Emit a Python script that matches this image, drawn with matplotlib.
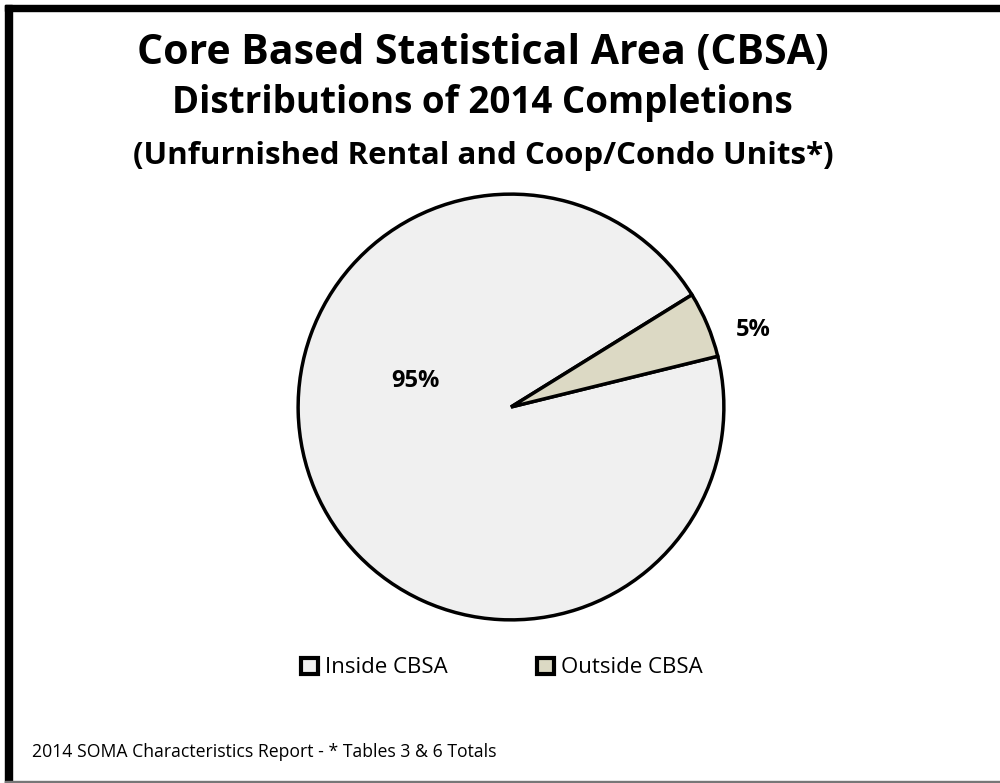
import matplotlib
matplotlib.use("Agg")
import matplotlib.pyplot as plt
from matplotlib.patches import Rectangle, Patch

plt.rcParams["font.family"] = ["Open Sans", "DejaVu Sans"]

labels = ["Inside CBSA", "Outside CBSA"]
shares = [95, 5]
colors = ["#f0f0f0", "#dcd9c4"]
pct_labels = ["95%", "5%"]

fig = plt.figure(figsize=(10, 7.83), dpi=100)

# frame: heavy top/left edge, thin grey bottom edge
fig.patches.append(Rectangle((0.005, 0.986), 0.995, 0.008, transform=fig.transFigure,
                             color="black", zorder=5))
fig.patches.append(Rectangle((0.005, 0.0), 0.007, 0.994, transform=fig.transFigure,
                             color="black", zorder=5))
fig.patches.append(Rectangle((0.005, 0.0), 0.995, 0.003, transform=fig.transFigure,
                             color="#777777", zorder=5))

fig.text(0.483, 0.932, "Core Based Statistical Area (CBSA)", ha="center", va="center",
         fontsize=29.5, fontweight="bold")
fig.text(0.482, 0.868, "Distributions of 2014 Completions", ha="center", va="center",
         fontsize=26.5, fontweight="bold")
fig.text(0.483, 0.801, "(Unfurnished Rental and Coop/Condo Units*)", ha="center", va="center",
         fontsize=22.5, fontweight="bold")

# pie centered at (511, 407) px, radius ~215 px
r = 215
cx, cy = 511, 783 - 407
ax = fig.add_axes([(cx - r) / 1000, (cy - r) / 783, 2 * r / 1000, 2 * r / 783])
wedges, _ = ax.pie(shares, colors=colors, startangle=31.8, counterclock=True,
                   wedgeprops=dict(edgecolor="black", linewidth=2.5), radius=1.0)
ax.set_xlim(-1.01, 1.01)
ax.set_ylim(-1.01, 1.01)
ax.set_aspect("auto")

ax.text(-0.45, 0.12, pct_labels[0], ha="center", va="center", fontsize=17, fontweight="bold")
ax.text(1.14, 0.36, pct_labels[1], ha="center", va="center", fontsize=17, fontweight="bold")

handles = [Patch(facecolor=c, edgecolor="black", linewidth=3) for c in colors]
fig.legend(handles, labels, loc="center", bbox_to_anchor=(0.502, 0.147), ncol=2,
           frameon=False, fontsize=16, handlelength=0.75, handleheight=0.75,
           handletextpad=0.35, columnspacing=4.0)

fig.text(0.032, 0.04, "2014 SOMA Characteristics Report - * Tables 3 & 6 Totals",
         ha="left", va="center", fontsize=12.7)

fig.savefig("out.png", dpi=100, facecolor="white")
